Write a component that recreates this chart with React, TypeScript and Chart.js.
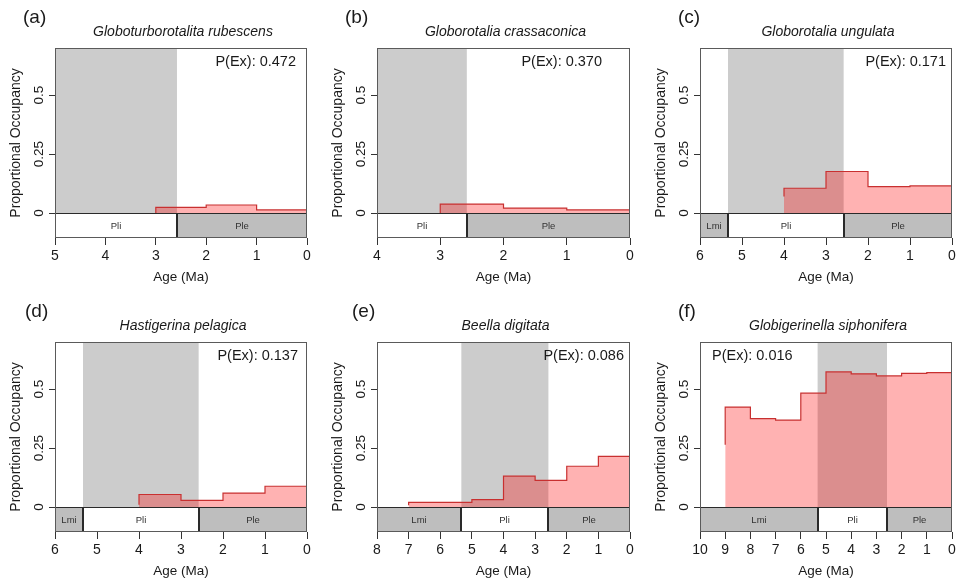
import React, { useEffect, useRef } from "react";
import { Chart, registerables } from "chart.js";

Chart.register(...registerables);

// ---------- DATA ----------
const panelLetters = ["(a)", "(b)", "(c)", "(d)", "(e)", "(f)"];
const speciesNames = [
  "Globoturborotalita rubescens",
  "Globorotalia crassaconica",
  "Globorotalia ungulata",
  "Hastigerina pelagica",
  "Beella digitata",
  "Globigerinella siphonifera",
];
const pExValues = ["0.472", "0.370", "0.171", "0.137", "0.086", "0.016"];
const ageAxisMax = [5, 4, 6, 6, 8, 10];

// bin edges in Ma (oldest first), occupancy per bin, and starting value of the step line
const edgesA = [3, 2, 1, 0];
const occA = [0.024, 0.034, 0.013];
const startA = 0;

const edgesB = [3, 2, 1, 0];
const occB = [0.038, 0.021, 0.013];
const startB = 0;

const edgesC = [4, 3, 2, 1, 0];
const occC = [0.105, 0.176, 0.112, 0.115];
const startC = 0.07;

const edgesD = [4, 3, 2, 1, 0];
const occD = [0.053, 0.028, 0.059, 0.088];
const startD = 0.01;

const edgesE = [7, 6, 5, 4, 3, 2, 1, 0];
const occE = [0.02, 0.02, 0.031, 0.131, 0.113, 0.173, 0.215];
const startE = 0.007;

const edgesF = [9, 8, 7, 6, 5, 4, 3, 2, 1, 0];
const occF = [0.424, 0.375, 0.369, 0.483, 0.573, 0.565, 0.556, 0.567, 0.57];
const startF = 0.264;

const allEdges = [edgesA, edgesB, edgesC, edgesD, edgesE, edgesF];
const allOcc = [occA, occB, occC, occD, occE, occF];
const allStart = [startA, startB, startC, startD, startE, startF];

// geological epochs (Ma)
const epochNames = ["Lmi", "Pli", "Ple"];
const epochStart = [11.63, 5.333, 2.58];
const epochEnd = [5.333, 2.58, 0];
const epochFill = ["#BEBEBE", "#FFFFFF", "#BEBEBE"];
const shadeEpoch = 1; // Pliocene shaded

const yTicks = [0, 0.25, 0.5];
const yTickLabels = ["0", "0.25", "0.5"];
const yMin = -0.106;
const yMax = 0.7;

// ---------- LAYOUT ----------
const FONT = "'Liberation Sans', Arial, Helvetica, sans-serif";
const colLeft = [0, 322, 645];
const CANVAS_W = 318;
const colPlotRight = [307, 308, 307];
const rowTop = [0, 294];
const CANVAS_H = 289;
const PLOT_LEFT = 55;
const PLOT_TOP = 48;
const letterX = [23, 23, 33, 25, 30, 33];
const pexAlign = ["right", "right", "right", "right", "right", "left"];
const pexOffset = [11, 28, 6, 9, 6, 12];

function stepPoints(edges: number[], occ: number[], start: number) {
  const pts: { x: number; y: number }[] = [{ x: edges[0], y: start }];
  for (let i = 0; i < occ.length; i++) {
    pts.push({ x: edges[i], y: occ[i] });
    pts.push({ x: edges[i + 1], y: occ[i] });
  }
  return pts;
}

function Panel({ idx }: { idx: number }) {
  const ref = useRef<HTMLCanvasElement | null>(null);
  const col = idx % 3;
  const row = Math.floor(idx / 3);
  const w = CANVAS_W;

  useEffect(() => {
    if (!ref.current) return;
    const xMax = ageAxisMax[idx];

    const panelPlugin = {
      id: "panelDecor" + idx,
      beforeDatasetsDraw(chart: any) {
        const { ctx, chartArea } = chart;
        const xs = chart.scales.x;
        const ys = chart.scales.y;
        const a = Math.min(epochStart[shadeEpoch], xMax);
        const b = Math.max(epochEnd[shadeEpoch], 0);
        const x1 = xs.getPixelForValue(a);
        const x2 = xs.getPixelForValue(b);
        const y0 = ys.getPixelForValue(0);
        ctx.save();
        ctx.fillStyle = "#CCCCCC";
        ctx.fillRect(Math.min(x1, x2), chartArea.top, Math.abs(x2 - x1), y0 - chartArea.top);
        ctx.restore();
      },
      afterDatasetsDraw(chart: any) {
        const { ctx, chartArea } = chart;
        const xs = chart.scales.x;
        const ys = chart.scales.y;
        const y0 = Math.round(ys.getPixelForValue(0)) + 0.5;
        const yb = Math.round(ys.getPixelForValue(yMin)) - 0.5;
        ctx.save();
        // timescale bar
        for (let i = 0; i < epochNames.length; i++) {
          const s = Math.min(epochStart[i], xMax);
          const e = Math.max(epochEnd[i], 0);
          if (s <= e) continue;
          const px1 = Math.round(xs.getPixelForValue(s)) + 0.5;
          const px2 = Math.round(xs.getPixelForValue(e)) - 0.5;
          ctx.fillStyle = epochFill[i];
          ctx.fillRect(px1, y0, px2 - px1, yb - y0);
          ctx.strokeStyle = "#2a2a2a";
          ctx.lineWidth = 1;
          ctx.strokeRect(px1, y0, px2 - px1, yb - y0);
          ctx.fillStyle = "#333333";
          ctx.font = `9.5px ${FONT}`;
          ctx.textAlign = "center";
          ctx.textBaseline = "middle";
          ctx.fillText(epochNames[i], (px1 + px2) / 2, (y0 + yb) / 2 + 0.5);
        }
        // plot box
        ctx.strokeStyle = "#5a5a5a";
        ctx.lineWidth = 1;
        const L = Math.round(chartArea.left) + 0.5;
        const T = Math.round(chartArea.top) + 0.5;
        const R = Math.round(chartArea.right) - 0.5;
        const B = Math.round(chartArea.bottom) - 0.5;
        ctx.strokeRect(L, T, R - L, B - T);
        // y tick labels (rotated like R)
        ctx.fillStyle = "#1a1a1a";
        ctx.font = `13.5px ${FONT}`;
        ctx.textAlign = "center";
        ctx.textBaseline = "middle";
        for (let i = 0; i < yTicks.length; i++) {
          const py = ys.getPixelForValue(yTicks[i]);
          ctx.save();
          ctx.translate(39, py);
          ctx.rotate(-Math.PI / 2);
          ctx.fillText(yTickLabels[i], 0, 0);
          ctx.restore();
        }
        // panel letter
        ctx.font = `19px ${FONT}`;
        ctx.textAlign = "left";
        ctx.fillText(panelLetters[idx], letterX[idx], 18);
        // species title
        ctx.font = `italic 14px ${FONT}`;
        ctx.textAlign = "center";
        ctx.fillText(speciesNames[idx], (chartArea.left + chartArea.right) / 2 + 2, 32);
        // P(Ex)
        ctx.font = `14.5px ${FONT}`;
        const al = pexAlign[idx] as CanvasTextAlign;
        ctx.textAlign = al;
        const tx = al === "right" ? chartArea.right - pexOffset[idx] : chartArea.left + pexOffset[idx];
        ctx.fillText("P(Ex): " + pExValues[idx], tx, chartArea.top + 14);
        ctx.restore();
      },
    };

    const chart = new Chart(ref.current, {
      type: "line",
      data: {
        datasets: [
          {
            data: stepPoints(allEdges[idx], allOcc[idx], allStart[idx]),
            borderColor: "#C83030",
            borderWidth: 1.2,
            backgroundColor: "rgba(255,0,0,0.3)",
            fill: "origin",
            pointRadius: 0,
            tension: 0,
          },
        ],
      },
      options: {
        animation: false,
        responsive: false,
        devicePixelRatio: 1,
        events: [],
        layout: {
          padding: { left: 0, top: PLOT_TOP, right: w - colPlotRight[col], bottom: 0 },
        },
        plugins: {
          legend: { display: false },
          tooltip: { enabled: false },
          title: { display: false },
        },
        scales: {
          x: {
            type: "linear",
            min: 0,
            max: xMax,
            reverse: true,
            ticks: {
              stepSize: 1,
              autoSkip: false,
              maxRotation: 0,
              color: "#1a1a1a",
              font: { family: FONT, size: 14 },
              padding: 3,
            },
            grid: { drawOnChartArea: false, drawTicks: true, tickLength: 7, color: "#333333" },
            border: { display: false },
            title: {
              display: true,
              text: "Age (Ma)",
              color: "#1a1a1a",
              font: { family: FONT, size: 13.5 },
              padding: { top: 0, bottom: 4 },
            },
            afterFit: (s: any) => {
              s.height = CANVAS_H - 238;
            },
          },
          y: {
            type: "linear",
            min: yMin,
            max: yMax,
            afterBuildTicks: (s: any) => {
              s.ticks = yTicks.map((v) => ({ value: v }));
            },
            ticks: { display: false },
            grid: { drawOnChartArea: false, drawTicks: true, tickLength: 6, color: "#333333" },
            border: { display: false },
            title: {
              display: true,
              text: "Proportional Occupancy",
              color: "#1a1a1a",
              font: { family: FONT, size: 14 },
              padding: { top: 8, bottom: 0 },
            },
            afterFit: (s: any) => {
              s.width = PLOT_LEFT;
            },
          },
        },
      } as any,
      plugins: [panelPlugin],
    });
    return () => chart.destroy();
  }, [idx]);

  return (
    <canvas
      ref={ref}
      width={w}
      height={CANVAS_H}
      style={{
        position: "absolute",
        left: colLeft[col],
        top: rowTop[row],
        width: w,
        height: CANVAS_H,
      }}
    />
  );
}

export default function App() {
  return (
    <div
      style={{
        position: "absolute",
        left: 0,
        top: 0,
        width: 956,
        height: 583,
        background: "#ffffff",
        overflow: "hidden",
      }}
    >
      {[0, 1, 2, 3, 4, 5].map((i) => (
        <Panel key={i} idx={i} />
      ))}
    </div>
  );
}
